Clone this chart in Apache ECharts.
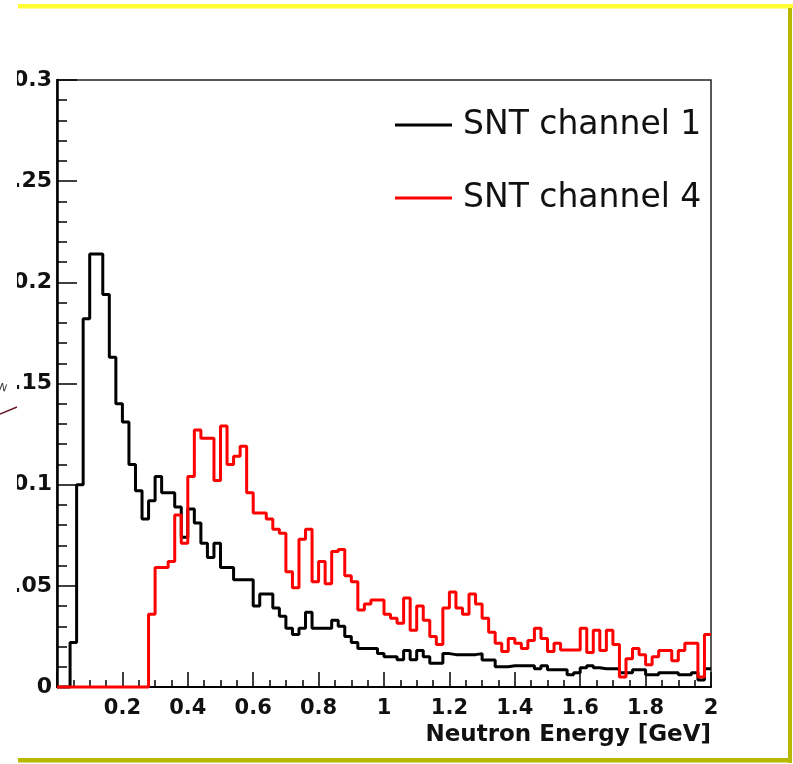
<!DOCTYPE html>
<html>
<head>
<meta charset="utf-8">
<script src="https://cdn.jsdelivr.net/npm/echarts@6/dist/echarts.min.js"></script>
<style>
html,body{margin:0;padding:0;background:#fff;}
#chart{width:793px;height:764px;}
</style>
</head>
<body>
<div id="chart"></div>
<script>
// Histogram binning (GeV)
const binLow = 0.0;
const binWidth = 0.02;

// SNT channel 1 (black), bin contents
const ch1Values = [
  0, 0, 0.022, 0.100, 0.182, 0.214, 0.214, 0.194, 0.163, 0.140,
  0.131, 0.110, 0.097, 0.083, 0.092, 0.104, 0.096, 0.096, 0.089, 0.074,
  0.088, 0.081, 0.071, 0.064, 0.071, 0.059, 0.059, 0.053, 0.053, 0.053,
  0.040, 0.046, 0.046, 0.039, 0.035, 0.029, 0.026, 0.029, 0.037, 0.029,
  0.029, 0.029, 0.033, 0.030, 0.025, 0.022, 0.019, 0.019, 0.019, 0.0165,
  0.015, 0.015, 0.0135, 0.018, 0.0135, 0.018, 0.015, 0.0117, 0.0117, 0.0165,
  0.016, 0.016, 0.016, 0.016, 0.0165, 0.0133, 0.0133, 0.010, 0.010, 0.0105,
  0.0105, 0.0105, 0.0105, 0.009, 0.0105, 0.0085, 0.0085, 0.0085, 0.006, 0.007,
  0.0095, 0.0105, 0.0095, 0.009, 0.009, 0.009, 0.007, 0.007, 0.0085, 0.0085,
  0.006, 0.006, 0.007, 0.007, 0.007, 0.006, 0.006, 0.007, 0.0035, 0.009
];

// SNT channel 4 (red), bin contents
const ch4Values = [
  0, 0, 0, 0, 0, 0, 0, 0, 0, 0,
  0, 0, 0, 0, 0.036, 0.059, 0.059, 0.062, 0.085, 0.071,
  0.104, 0.127, 0.123, 0.123, 0.102, 0.129, 0.110, 0.114, 0.119, 0.096,
  0.086, 0.086, 0.083, 0.078, 0.076, 0.057, 0.049, 0.073, 0.078, 0.052,
  0.062, 0.051, 0.067, 0.068, 0.055, 0.052, 0.038, 0.041, 0.043, 0.043,
  0.036, 0.034, 0.0315, 0.044, 0.028, 0.040, 0.033, 0.025, 0.021, 0.039,
  0.047, 0.039, 0.036, 0.046, 0.041, 0.034, 0.027, 0.0216, 0.0175, 0.024,
  0.0216, 0.019, 0.023, 0.029, 0.024, 0.0175, 0.0216, 0.0183, 0.0183, 0.0183,
  0.029, 0.017, 0.028, 0.018, 0.028, 0.021, 0.005, 0.014, 0.019, 0.016,
  0.011, 0.015, 0.018, 0.018, 0.013, 0.018, 0.0216, 0.0216, 0.005, 0.026
];

const seriesNames = ['SNT channel 1', 'SNT channel 4'];
const seriesColors = ['#000000', '#ff0000'];
const xAxisTitle = 'Neutron Energy [GeV]';

// Build step-histogram points from bin contents: [lowEdge, content] + closing edge
function toSteps(vals) {
  const pts = vals.map((v, i) => [+(binLow + i * binWidth).toFixed(4), v]);
  pts.push([+(binLow + vals.length * binWidth).toFixed(4), vals[vals.length - 1]]);
  return pts;
}

const chart = echarts.init(document.getElementById('chart'), null, {renderer: 'canvas'});

const labelFont = 'DejaVu Sans';

chart.setOption({
  animation: false,
  backgroundColor: '#ffffff',
  grid: {
    left: 57, right: 82, top: 80, bottom: 77,
    show: true, borderColor: '#222222', borderWidth: 1.5, backgroundColor: 'transparent',
    containLabel: false, outerBoundsMode: 'none'
  },
  legend: {
    orient: 'vertical',
    left: 395, top: 95,
    padding: 0,
    itemGap: 13,
    itemWidth: 57, itemHeight: 3,
    icon: 'rect',
    data: seriesNames,
    selectedMode: false,
    textStyle: {
      fontFamily: labelFont, fontSize: 33, color: '#111111',
      lineHeight: 40, padding: [20, 0, 0, 6]
    }
  },
  xAxis: {
    type: 'value', min: 0, max: 2, interval: 0.2,
    name: xAxisTitle, nameLocation: 'end', nameGap: 0, nameMoveOverlap: false,
    nameTextStyle: {
      fontFamily: labelFont, fontWeight: 'bold', fontSize: 23, color: '#111111',
      align: 'right', verticalAlign: 'top', padding: [37, 0, 0, 0]
    },
    axisLine: {show: true, onZero: false, lineStyle: {color: '#000000', width: 2}},
    axisTick: {show: true, inside: true, length: 15, lineStyle: {color: '#000000', width: 1.5}},
    minorTick: {show: true, splitNumber: 4, length: 7, lineStyle: {color: '#000000', width: 1.5}},
    splitLine: {show: false},
    minorSplitLine: {show: false},
    axisLabel: {
      fontFamily: labelFont, fontWeight: 'bold', fontSize: 21, color: '#111111', margin: 11,
      showMinLabel: true, showMaxLabel: true, hideOverlap: false,
      formatter: v => (v === 0 ? '' : String(+v.toFixed(2)))
    }
  },
  yAxis: {
    type: 'value', min: 0, max: 0.3, interval: 0.05,
    axisLine: {show: true, onZero: false, lineStyle: {color: '#000000', width: 2.5}},
    axisTick: {show: true, inside: true, length: 20, lineStyle: {color: '#000000', width: 1.5}},
    minorTick: {show: true, splitNumber: 5, length: 10, lineStyle: {color: '#000000', width: 1.5}},
    splitLine: {show: false},
    minorSplitLine: {show: false},
    axisLabel: {
      fontFamily: labelFont, fontWeight: 'bold', fontSize: 22, color: '#111111', margin: 5,
      showMinLabel: true, showMaxLabel: true, hideOverlap: false,
      padding: [12, 0, 0, 0],
      formatter: v => String(+v.toFixed(2))
    }
  },
  series: [
    {
      name: seriesNames[0], type: 'line', step: 'end', data: toSteps(ch1Values),
      symbol: 'none', clip: false,
      lineStyle: {color: seriesColors[0], width: 3},
      itemStyle: {color: seriesColors[0]}
    },
    {
      name: seriesNames[1], type: 'line', step: 'end', data: toSteps(ch4Values),
      symbol: 'none', clip: false,
      lineStyle: {color: seriesColors[1], width: 3},
      itemStyle: {color: seriesColors[1]}
    }
  ],
  graphic: [
    {type: 'rect', z: 100, shape: {x: 18, y: 4, width: 775, height: 4.5}, style: {fill: '#ffff33'}},
    {type: 'rect', z: 100, shape: {x: 788, y: 8, width: 4, height: 755}, style: {fill: '#b8b800'}},
    {type: 'rect', z: 100, shape: {x: 18, y: 758, width: 774, height: 4.5}, style: {fill: '#b8b800'}},
    {type: 'rect', z: 100, shape: {x: 0, y: 12, width: 17, height: 744}, style: {fill: '#ffffff'}},
    {type: 'line', z: 101, shape: {x1: 0, y1: 414, x2: 17, y2: 407}, style: {stroke: '#6b1e2e', lineWidth: 1.5}},
    {type: 'text', z: 101, x: 1, y: 382, rotation: -0.35, style: {text: 'N', fontFamily: 'DejaVu Sans', fontSize: 10, fill: '#333333'}}
  ]
});
</script>
</body>
</html>
